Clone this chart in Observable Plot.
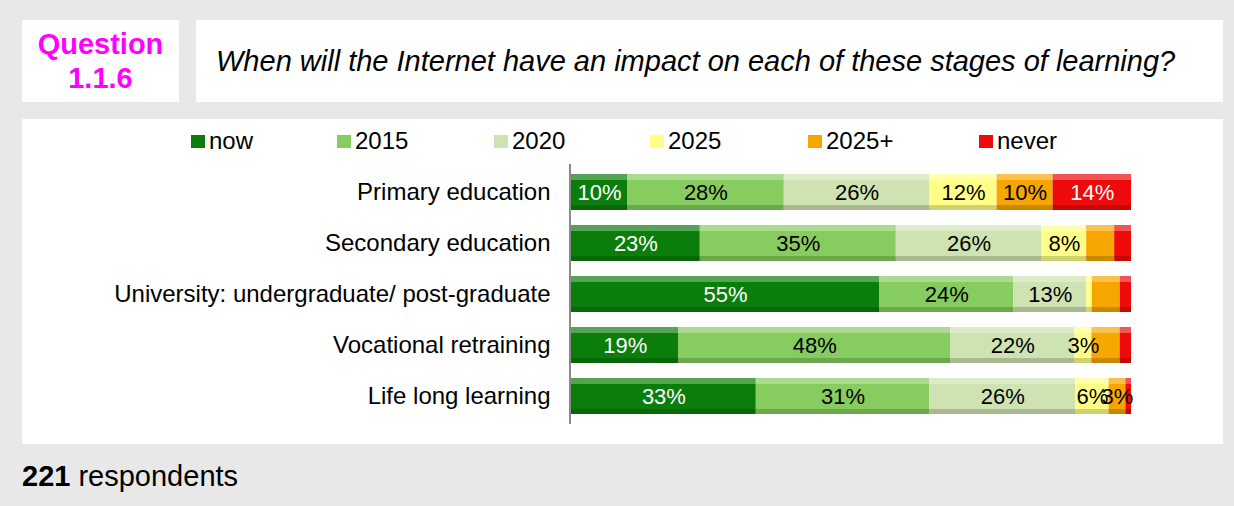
<!DOCTYPE html>
<html>
<head>
<meta charset="utf-8">
<script src="https://cdn.jsdelivr.net/npm/d3@7"></script>
<script src="https://cdn.jsdelivr.net/npm/@observablehq/plot@0.6"></script>
<style>
  html, body { margin: 0; padding: 0; }
  body { width: 1234px; height: 506px; background: #e8e8e8; position: relative; overflow: hidden;
         font-family: "Liberation Sans", Arial, sans-serif; }
  .box { position: absolute; background: #fff; }
  #qbox { left: 22px; top: 20px; width: 157px; height: 82px; color: #ff00ff; font-weight: bold;
          font-size: 29px; line-height: 34px; text-align: center; display: flex; align-items: center; justify-content: center; }
  #tbox { left: 196px; top: 20px; width: 1027px; height: 82px; display: flex; align-items: center; }
  #tbox span { font-style: italic; font-size: 29px; margin-left: 20px; color: #000; }
  #panel { left: 22px; top: 119px; width: 1201px; height: 325px; }
  #legend { position: absolute; left: 0; top: 128px; width: 1234px; height: 26px; }
  .li { position: absolute; top: 0; height: 26px; display: flex; align-items: center; font-size: 24px; color: #000; }
  .sw { width: 14px; height: 13px; margin-right: 4px; }
  #chart { position: absolute; left: 0; top: 150px; }
  #footer { position: absolute; left: 22px; top: 460px; font-size: 29px; color: #000; }
</style>
</head>
<body>
<div class="box" id="qbox"><div>Question<br>1.1.6</div></div>
<div class="box" id="tbox"><span>When will the Internet have an impact on each of these stages of learning?</span></div>
<div class="box" id="panel"></div>
<div id="legend"></div>
<div id="chart"></div>
<div id="footer"><b>221</b> respondents</div>
<script>
// ---- data ----
const categories = ["Primary education", "Secondary education", "University: undergraduate/ post-graduate", "Vocational retraining", "Life long learning"];
const seriesNames = ["now", "2015", "2020", "2025", "2025+", "never"];
const valNow      = [10, 23, 55, 19, 33];
const val2015     = [28, 35, 24, 48, 31];
const val2020     = [26, 26, 13, 22, 26];
const val2025     = [12,  8,  1,  3,  6];
const val2025plus = [10,  5,  5,  5,  3];
const valNever    = [14,  3,  2,  2,  1];
// segments whose percentage is not printed in the original
const unlabeled = [[], ["2025+", "never"], ["2025", "2025+", "never"], ["2025+", "never"], ["never"]];
const whiteLabelSeries = ["now", "never"];

// ---- styles ----
const colors = ["#0b7d0b", "#86cc5e", "#cfe2b2", "#ffff88", "#f7a600", "#ee0a0a"];
const legendX = [191, 337, 494, 650, 808, 979];

const seriesValues = [valNow, val2015, val2020, val2025, val2025plus, valNever];
const rows = [];
categories.forEach((c, i) => {
  seriesNames.forEach((s, j) => {
    rows.push({category: c, series: s, value: seriesValues[j][i], label: unlabeled[i].includes(s) ? null : seriesValues[j][i] + "%"});
  });
});

// legend
const legend = document.getElementById("legend");
seriesNames.forEach((s, j) => {
  const d = document.createElement("div");
  d.className = "li";
  d.style.left = legendX[j] + "px";
  d.innerHTML = `<div class="sw" style="background:${colors[j]}"></div><span>${s}</span>`;
  legend.appendChild(d);
});

const bw = 36;
const stack = (extra) => Plot.stackX({x: "value", y: "category", z: "series", order: seriesNames, offset: "normalize", ...extra});

const chart = Plot.plot({
  width: 1234,
  height: 290,
  marginLeft: 571,
  marginRight: 103,
  marginTop: 14,
  marginBottom: 16,
  style: {fontFamily: "'Liberation Sans', Arial, sans-serif", fontSize: "24px", background: "transparent", color: "#000"},
  x: {axis: null},
  y: {domain: categories, paddingInner: 0.294, paddingOuter: 0.196, label: null},
  color: {domain: seriesNames, range: colors},
  marks: [
    Plot.barX(rows, stack({fill: "series"})),
    Plot.barX(rows, stack({fill: "white", fillOpacity: 0.3, insetBottom: bw - 6})),
    Plot.barX(rows, stack({fill: "black", fillOpacity: 0.18, insetTop: bw - 5})),
    Plot.text(rows, stack({text: d => whiteLabelSeries.includes(d.series) ? d.label : null, fill: "white", fontSize: 22})),
    Plot.text(rows, stack({text: d => whiteLabelSeries.includes(d.series) ? null : d.label, fill: "black", fontSize: 22})),
    Plot.axisY({tickSize: 0, tickPadding: 21, label: null, fontSize: 24}),
    Plot.ruleX([0], {stroke: "#8a8a8a", strokeWidth: 2, dx: -1.5})
  ]
});
document.getElementById("chart").appendChild(chart);
</script>
</body>
</html>
